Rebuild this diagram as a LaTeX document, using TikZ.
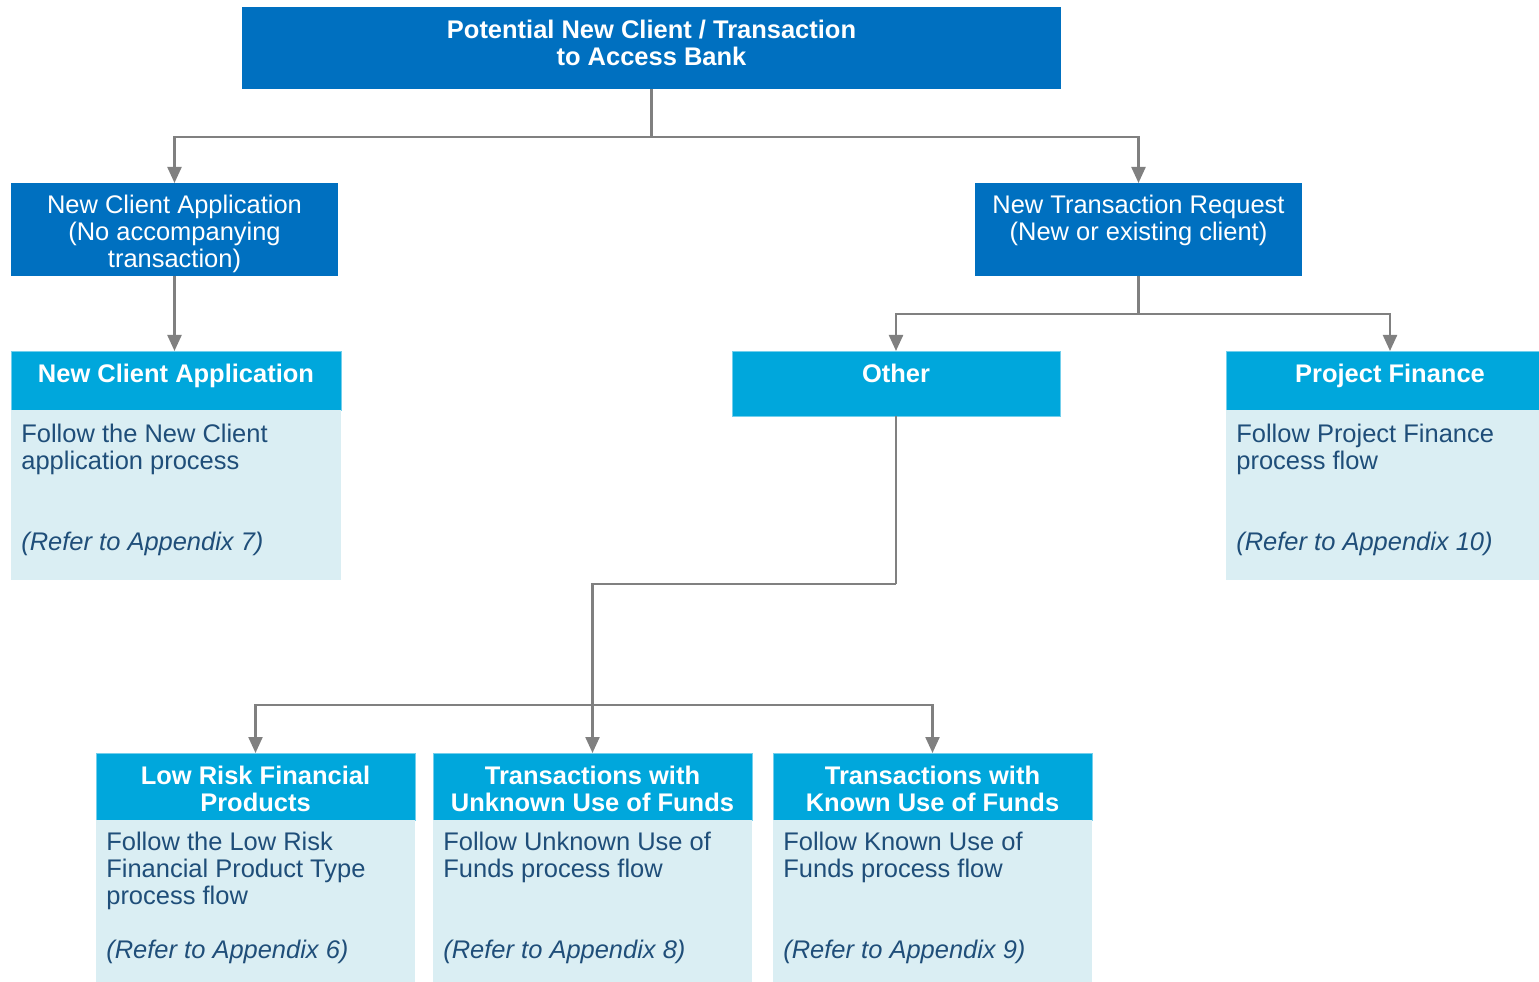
\documentclass[tikz,border=0pt]{standalone}
\usepackage{fontspec}
\setmainfont{Liberation Sans}
\usetikzlibrary{arrows.meta, positioning}

\definecolor{topblue}{HTML}{0070C0}
\definecolor{hdcyan}{HTML}{00A7DC}
\definecolor{bodyblue}{HTML}{DAEEF3}
\definecolor{bodyink}{HTML}{1F4E79}
\definecolor{linegray}{HTML}{808080}
\newcommand{\pxl}{0.02cm}
\newcommand{\boxfont}{\fontsize{14.5}{15.35}\selectfont}

\tikzset{
  boxbase/.style={anchor=north west, inner sep=0pt, outer sep=0pt},
  darkbox/.style={boxbase, fill=topblue},
  headbox/.style={boxbase, fill=hdcyan, draw=hdcyan!55!white, line width=0.5pt},
  bodybox/.style={boxbase, fill=bodyblue},
  whitetext/.style={anchor=north, inner sep=0pt, align=center, text=white},
  headtext/.style={whitetext, font=\boxfont\bfseries},
  bodytext/.style={anchor=north west, inner sep=0pt, align=left, text=bodyink},
  link/.style={draw=linegray, line width=1.3pt},
  arrow/.style={link, -{Triangle[width=0.28cm, length=0.32cm]}}
}

\begin{document}
\begin{tikzpicture}[x=\pxl, y=-\pxl, font=\boxfont]
  \useasboundingbox (0,0) rectangle (1539,982);
  \clip (0,0) rectangle (1539,982);

  % Entry point
  \node[darkbox, minimum width=819*\pxl, minimum height=82*\pxl] (entry) at (242,7) {};
  \node[headtext] (entrytxt) at ([shift={(0,13)}]entry.north) {Potential New Client / Transaction\\to Access Bank};

  % First split
  \node[darkbox, minimum width=327*\pxl, minimum height=93*\pxl] (newclient) at (11,183) {};
  \node[whitetext] (newclienttxt) at ([shift={(0,12)}]newclient.north) {New Client Application\\(No accompanying\\transaction)};
  \node[darkbox, minimum width=327*\pxl, minimum height=93*\pxl] (newtrans) at (975,183) {};
  \node[whitetext] (newtranstxt) at ([shift={(0,12)}]newtrans.north) {New Transaction Request\\(New or existing client)};

  % New client application
  \node[headbox, minimum width=330*\pxl, minimum height=59*\pxl] (ncahead) at (11,351) {};
  \node[headtext] (ncaheadtxt) at ([shift={(0,13)}]ncahead.north) {New Client Application};
  \node[bodybox, below=0pt of ncahead, minimum width=330*\pxl, minimum height=170*\pxl] (ncabody) {};
  \node[bodytext] (ncabodytxt) at ([shift={(10,14)}]ncabody.north west) {Follow the New Client\\application process\\[1.08cm]{\itshape (Refer to Appendix 7)}};

  % Other
  \node[headbox, minimum width=328*\pxl, minimum height=65*\pxl] (other) at (732,351) {};
  \node[headtext] (othertxt) at ([shift={(0,13)}]other.north) {Other};

  % Project finance
  \node[headbox, minimum width=328*\pxl, minimum height=59*\pxl] (pfhead) at (1226,351) {};
  \node[headtext] (pfheadtxt) at ([shift={(0,13)}]pfhead.north) {Project Finance};
  \node[bodybox, below=0pt of pfhead, minimum width=328*\pxl, minimum height=170*\pxl] (pfbody) {};
  \node[bodytext] (pfbodytxt) at ([shift={(10,14)}]pfbody.north west) {Follow Project Finance\\process flow\\[1.08cm]{\itshape (Refer to Appendix 10)}};

  % Bottom row
  \node[headbox, minimum width=319*\pxl, minimum height=67*\pxl] (lowhead) at (96,753) {};
  \node[headtext] (lowheadtxt) at ([shift={(0,13)}]lowhead.north) {Low Risk Financial\\Products};
  \node[bodybox, below=0pt of lowhead, minimum width=319*\pxl, minimum height=162*\pxl] (lowbody) {};
  \node[bodytext] (lowbodytxt) at ([shift={(10,12)}]lowbody.north west) {Follow the Low Risk\\Financial Product Type\\process flow\\[0.54cm]{\itshape (Refer to Appendix 6)}};

  \node[headbox, minimum width=319*\pxl, minimum height=67*\pxl] (unkhead) at (433,753) {};
  \node[headtext] (unkheadtxt) at ([shift={(0,13)}]unkhead.north) {Transactions with\\Unknown Use of Funds};
  \node[bodybox, below=0pt of unkhead, minimum width=319*\pxl, minimum height=162*\pxl] (unkbody) {};
  \node[bodytext] (unkbodytxt) at ([shift={(10,12)}]unkbody.north west) {Follow Unknown Use of\\Funds process flow\\[1.08cm]{\itshape (Refer to Appendix 8)}};

  \node[headbox, minimum width=319*\pxl, minimum height=67*\pxl] (knownhead) at (773,753) {};
  \node[headtext] (knownheadtxt) at ([shift={(0,13)}]knownhead.north) {Transactions with\\Known Use of Funds};
  \node[bodybox, below=0pt of knownhead, minimum width=319*\pxl, minimum height=162*\pxl] (knownbody) {};
  \node[bodytext] (knownbodytxt) at ([shift={(10,12)}]knownbody.north west) {Follow Known Use of\\Funds process flow\\[1.08cm]{\itshape (Refer to Appendix 9)}};

  % Connectors
  \draw[link] (entry.south) -- ++(0,48) coordinate (entrysplit);
  \draw[arrow] (entrysplit) -| (newclient.north);
  \draw[arrow] (entrysplit) -| (newtrans.north);
  \draw[arrow] (newclient.south) -- (newclient.south |- ncahead.north);
  \draw[link] (newtrans.south) -- ++(0,38) coordinate (transsplit);
  \draw[arrow] (transsplit) -| (other.north);
  \draw[arrow] (transsplit) -| (pfhead.north);
  \draw[link] (other.south) -- ++(0,168) coordinate (otherbend);
  \draw[arrow] (otherbend) -| (unkhead.north);
  \path (unkhead.north) ++(0,-48) coordinate (lowsplit);
  \draw[arrow] (lowsplit) -| (lowhead.north);
  \draw[arrow] (lowsplit) -| (knownhead.north);
\end{tikzpicture}
\end{document}
